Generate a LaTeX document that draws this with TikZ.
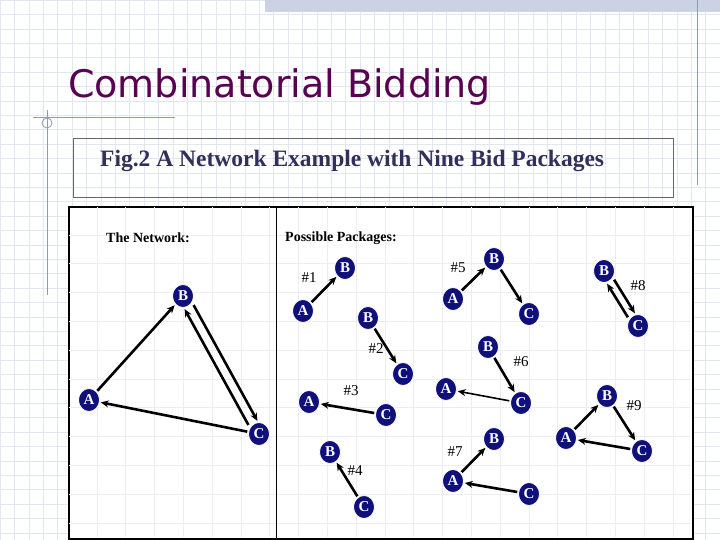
\documentclass[tikz,border=0pt]{standalone}
\usepackage{fontspec}
\setmainfont{Liberation Serif}
\newfontfamily\titlefont{DejaVu Sans}
\usetikzlibrary{arrows.meta}
\definecolor{nodeblue}{HTML}{10107A}
\definecolor{titlepurple}{HTML}{5A0052}
\definecolor{capblue}{HTML}{30305A}
\definecolor{gridc}{HTML}{E2E6EE}
\definecolor{decor}{HTML}{8C9AC0}
\tikzset{
  v/.style={ellipse,fill=nodeblue,draw=white,line width=0.8pt,inner sep=0pt,minimum width=21pt,minimum height=23pt,
    text=white,font=\bfseries\fontsize{15}{15}\selectfont},
  e/.style={-{Stealth[length=8pt,width=7pt]},line width=2.6pt,shorten >=1pt,shorten <=1pt},
  lab/.style={font=\fontsize{15}{15}\selectfont,inner sep=0pt},
  hd/.style={font=\bfseries\fontsize{14}{14}\selectfont,inner sep=0pt,anchor=west}
}
\usetikzlibrary{shapes.geometric}
\begin{document}
\begin{tikzpicture}[x=1pt,y=-1pt]
\useasboundingbox (0,0) rectangle (720,540);
\fill[white] (0,0) rectangle (720,540);
\foreach \i in {0,...,50} {\draw[gridc,line width=0.5pt] (\i*14.4,0) -- (\i*14.4,540);}
\foreach \j in {0,...,38} {\draw[gridc,line width=0.5pt] (0,\j*14.4) -- (720,\j*14.4);}
\fill[decor!45] (265,0) rectangle (720,12);
\draw[decor,line width=1pt] (697,0) -- (697,185);
\draw[decor,line width=1pt] (33,118) -- (175,118);
\draw[decor,line width=1pt] (47,110) -- (47,295);
\draw[decor,line width=0.8pt] (47,123) circle (5);
\node[text=titlepurple,font=\titlefont\fontsize{38}{38}\selectfont,anchor=west,inner sep=0pt] (title) at (68,87) {Combinatorial Bidding};
\node[draw=gray!80!black,line width=0.8pt,minimum width=600pt,minimum height=59pt,anchor=north west,inner sep=0pt] (capbox) at (73,138) {};
\node[text=capblue,font=\bfseries\fontsize{23.5}{23.5}\selectfont,anchor=west,inner sep=0pt] (cap) at (100,161) {Fig.2 A Network Example with Nine Bid Packages};
\node[draw=black,line width=1.8pt,fill=white,minimum width=624pt,minimum height=332pt,anchor=north west,inner sep=0pt] (fig) at (68,206) {};
\foreach \i in {1,...,21} {\draw[gridc!70,line width=0.4pt] (68+\i*28.8,207) -- (68+\i*28.8,537);}
\foreach \j in {1,...,11} {\draw[gridc!70,line width=0.4pt] (69,206+\j*28.8) -- (691,206+\j*28.8);}
\draw[black,line width=0.8pt] (276,206) -- (276,538);
\node[hd] (h1) at (106,238) {The Network:};
\node[hd] (h2) at (285,238) {Possible Packages:};
% network
\node[v] (NB) at (183,296) {B};
\node[v] (NA) at (89,400) {A};
\node[v] (NC) at (259,434) {C};
\draw[e] (NA) -- (NB);
\draw[e,transform canvas={shift={(4.5,-2)}}] (NB) -- (NC);
\draw[e,transform canvas={shift={(-4.5,2)}}] (NC) -- (NB);
\draw[e] (NC) -- (NA);
% #1
\node[v] (A1) at (303,311) {A}; \node[v] (B1) at (345,268) {B};
\draw[e] (A1) -- (B1); \node[lab] (l1) at (309,278) {\#1};
% #2
\node[v] (B2) at (368,318) {B}; \node[v] (C2) at (403,374) {C};
\draw[e] (B2) -- (C2); \node[lab] (l2) at (376,349) {\#2};
% #3
\node[v] (A3) at (309,402) {A}; \node[v] (C3) at (386,415) {C};
\draw[e] (C3) -- (A3); \node[lab] (l3) at (351,391) {\#3};
% #4
\node[v] (B4) at (330,452) {B}; \node[v] (C4) at (364,507) {C};
\draw[e] (C4) -- (B4); \node[lab] (l4) at (355,471) {\#4};
% #5
\node[v] (A5) at (453,299) {A}; \node[v] (B5) at (494,259) {B}; \node[v] (C5) at (529,314) {C};
\draw[e] (A5) -- (B5); \draw[e] (B5) -- (C5); \node[lab] (l5) at (458,268) {\#5};
% #6
\node[v] (B6) at (488,347) {B}; \node[v] (A6) at (446,389) {A}; \node[v] (C6) at (521,403) {C};
\draw[e] (B6) -- (C6); \draw[e,line width=1.6pt] (C6) -- (A6); \node[lab] (l6) at (521,362) {\#6};
% #7
\node[v] (B7) at (494,439) {B}; \node[v] (A7) at (453,481) {A}; \node[v] (C7) at (529,494) {C};
\draw[e] (A7) -- (B7); \draw[e] (C7) -- (A7); \node[lab] (l7) at (455,452) {\#7};
% #8
\node[v] (B8) at (604,271) {B}; \node[v] (C8) at (638,326) {C};
\draw[e,transform canvas={shift={(3.5,-2)}}] (B8) -- (C8);
\draw[e,transform canvas={shift={(-3.5,2)}}] (C8) -- (B8);
\node[lab] (l8) at (638,286) {\#8};
% #9
\node[v] (A9) at (566,438) {A}; \node[v] (B9) at (607,396) {B}; \node[v] (C9) at (642,451) {C};
\draw[e] (A9) -- (B9); \draw[e] (B9) -- (C9); \draw[e] (C9) -- (A9);
\node[lab] (l9) at (634,406) {\#9};
\end{tikzpicture}
\end{document}
